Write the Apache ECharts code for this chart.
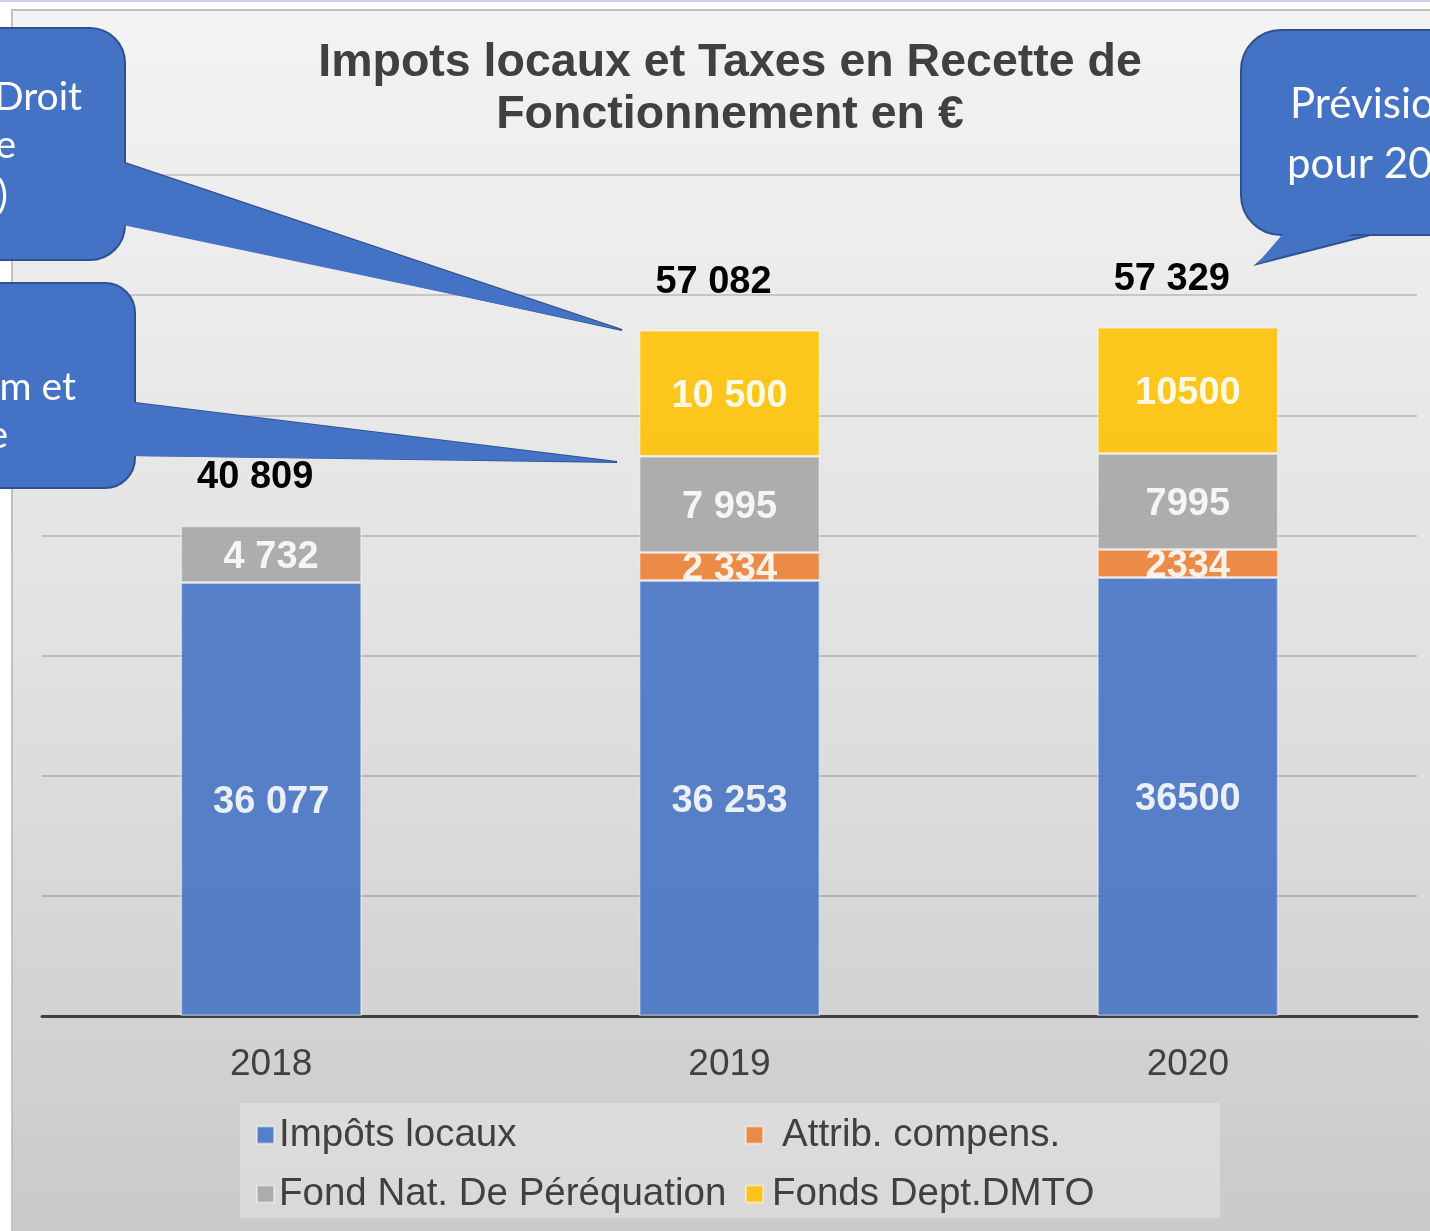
<!DOCTYPE html>
<html>
<head>
<meta charset="utf-8">
<title>Impots locaux et Taxes</title>
<script src="https://cdn.jsdelivr.net/npm/echarts@6/dist/echarts.min.js"></script>
<style>
  html, body { margin: 0; padding: 0; background: #fff; }
  #chart { width: 1430px; height: 1231px; }
</style>
</head>
<body>
<div id="chart"></div>
<script>
// données
var years = ['2018', '2019', '2020'];
var impotsLocaux = [36077, 36253, 36500];
var attribCompens = [null, 2334, 2334];
var fondNatPereq = [4732, 7995, 7995];
var fondsDeptDMTO = [null, 10500, 10500];
// 2020 est affiché sans séparateur de milliers
var spacedYears = ['2018', '2019'];

var totals = years.map(function (y, i) {
	return [impotsLocaux, attribCompens, fondNatPereq, fondsDeptDMTO].reduce(function (s, arr) {
		return s + (arr[i] || 0);
	}, 0);
});

function fmt(v, year) {
	var s = String(v);
	if (spacedYears.indexOf(year) >= 0) {
		s = s.replace(/\B(?=(\d{3})+(?!\d))/g, ' ');
	}
	return s;
}

var FONT = '"Liberation Sans", Arial, sans-serif';
var BLUE = '#4472c4', DARKBLUE = '#2f528f';

function segment(name, data, color) {
	return {
		name: name,
		type: 'bar',
		stack: 'total',
		barWidth: 181,
		data: data,
		itemStyle: {
			color: color,
			opacity: 0.88,
			borderColor: 'rgba(255,255,255,0.5)',
			borderWidth: 1.5
		},
		label: {
			show: true,
			position: 'inside',
			offset: [0, 3],
			color: '#fff',
			fontFamily: FONT,
			fontWeight: 'bold',
			fontSize: 38,
			formatter: function (p) { return fmt(p.value, p.name); }
		}
	};
}

function legendItem(name, left, top, padLeft) {
	return {
		data: [name],
		left: left,
		top: top,
		padding: 0,
		icon: 'rect',
		itemWidth: 17,
		itemHeight: 17,
		selectedMode: false,
		textStyle: {
			fontFamily: FONT,
			fontSize: 38.5,
			color: '#404040',
			lineHeight: 40,
			padding: [0, 0, 0, padLeft]
		}
	};
}

// bulle : queue contourée, rectangle arrondi, puis queue pleine pour masquer la jonction
function bubble(rect, tail, inner) {
	return [
		{ type: 'polygon', z: 100, shape: { points: tail }, style: { fill: BLUE, stroke: DARKBLUE, lineWidth: 2 } },
		{ type: 'rect', z: 101, shape: rect, style: { fill: BLUE, stroke: DARKBLUE, lineWidth: 2 } },
		{ type: 'polygon', z: 102, shape: { points: inner }, style: { fill: BLUE } }
	];
}

function bubbleText(text, x, y, align, size) {
	return {
		type: 'text', z: 110,
		style: {
			text: text, x: x, y: y, fill: '#fff',
			font: size + 'px Lato, sans-serif',
			textAlign: align, textVerticalAlign: 'middle'
		}
	};
}

var graphics = [
	{
		type: 'rect', z: -10,
		shape: { x: 12, y: 10, width: 1440, height: 1240 },
		style: {
			fill: new echarts.graphic.LinearGradient(0, 0, 0, 1, [
				{ offset: 0, color: '#f3f3f3' },
				{ offset: 0.5, color: '#e2e2e2' },
				{ offset: 1, color: '#c9c9c9' }
			]),
			stroke: '#c2c2c2',
			lineWidth: 2
		}
	},
	{
		type: 'rect', z: -10,
		shape: { x: 0, y: 0, width: 1430, height: 2 },
		style: { fill: '#c9d5e6' }
	},
	{
		type: 'rect', z: -5,
		shape: { x: 240, y: 1103, width: 980, height: 115 },
		style: { fill: 'rgba(255,255,255,0.28)' }
	},
	{
		type: 'text', z: 5,
		style: {
			text: 'Impots locaux et Taxes en Recette de\nFonctionnement en €',
			x: 730, y: 37,
			fill: '#404040',
			font: 'bold 46.5px "Liberation Sans", Arial, sans-serif',
			lineHeight: 52,
			textAlign: 'center',
			textVerticalAlign: 'top'
		}
	}
]
	.concat(bubble(
		{ x: -40, y: 28, width: 165, height: 232, r: 35 },
		[[125, 163], [622, 330], [125, 222]],
		[[118, 161], [622, 330], [118, 224]]
	))
	.concat(bubble(
		{ x: -40, y: 283, width: 175, height: 205, r: 30 },
		[[135, 403], [617, 462], [135, 455]],
		[[128, 402], [617, 462], [128, 456]]
	))
	.concat(bubble(
		{ x: 1241, y: 30, width: 240, height: 205, r: 40 },
		[[1370, 235], [1257, 264], [1290, 235]],
		[[1372, 228], [1257, 264], [1288, 228]]
	))
	.concat([
		bubbleText('Droit', 82, 97, 'right', 39),
		bubbleText('e', 16, 145, 'right', 39),
		bubbleText(')', 8, 195, 'right', 39),
		bubbleText('m et', 76, 387, 'right', 39),
		bubbleText('e', 8, 435, 'right', 39),
		bubbleText('Prévision', 1290, 104, 'left', 42),
		bubbleText('pour 2020', 1287, 164, 'left', 42)
	]);

var myChart = echarts.init(document.getElementById('chart'));
var option = {
	backgroundColor: '#fff',
	animation: false,
	legend: [
		legendItem('Impôts locaux', 256, 1115, 0),
		legendItem('Attrib. compens.', 745, 1115, 14),
		legendItem('Fond Nat. De Péréquation', 256, 1174, 0),
		legendItem('Fonds Dept.DMTO', 745, 1174, 4)
	],
	grid: {
		left: 42,
		right: 13,
		top: 175,
		bottom: 215
	},
	xAxis: {
		type: 'category',
		data: years,
		axisTick: { show: false },
		axisLine: { lineStyle: { color: '#404040', width: 3 } },
		axisLabel: {
			fontFamily: FONT,
			fontSize: 37,
			color: '#404040',
			margin: 30
		}
	},
	yAxis: {
		type: 'value',
		min: 0,
		max: 70000,
		interval: 10000,
		axisLabel: { show: false },
		axisLine: { show: false },
		axisTick: { show: false },
		splitLine: { lineStyle: { color: 'rgba(0,0,0,0.16)', width: 2 } }
	},
	series: [
		segment('Impôts locaux', impotsLocaux, '#4472c4'),
		segment('Attrib. compens.', attribCompens, '#ed7d31'),
		segment('Fond Nat. De Péréquation', fondNatPereq, '#a5a5a5'),
		segment('Fonds Dept.DMTO', fondsDeptDMTO, '#ffc000'),
		{
			name: 'Total',
			type: 'bar',
			barWidth: 181,
			barGap: '-100%',
			data: totals,
			itemStyle: { color: 'rgba(0,0,0,0)' },
			label: {
				show: true,
				position: 'top',
				distance: 29,
				offset: [-16, 0],
				color: '#000',
				fontFamily: FONT,
				fontWeight: 'bold',
				fontSize: 38,
				formatter: function (p) { return fmt(p.value, '2018'); }
			},
			silent: true
		}
	],
	graphic: graphics
};
myChart.setOption(option);
</script>
</body>
</html>
